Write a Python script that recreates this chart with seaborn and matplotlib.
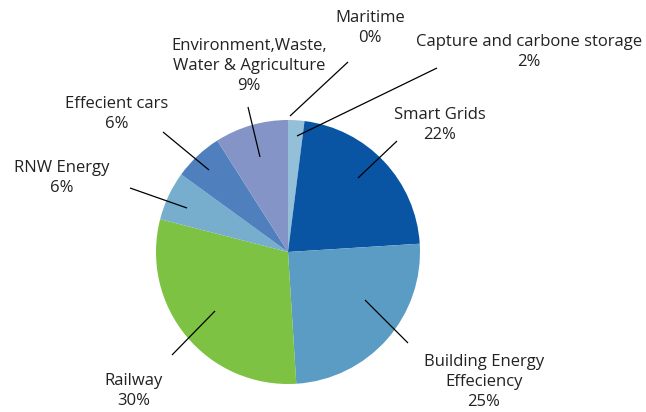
import matplotlib
matplotlib.use("Agg")
import matplotlib.pyplot as plt
import seaborn as sns

sns.set_theme(style="white")
plt.rcParams["font.family"] = ["Open Sans", "DejaVu Sans"]

# Share of funding by sector, clockwise from 12 o'clock
labels = ["Maritime", "Capture and carbone storage", "Smart Grids",
          "Building Energy\nEffeciency", "Railway", "RNW Energy",
          "Effecient cars", "Environment,Waste,\nWater & Agriculture"]
shares = [0, 2, 22, 25, 30, 6, 6, 9]
colors = ["#b9d3e6", "#94bfd9", "#0a55a3", "#5a9cc3", "#7dc242",
          "#77adcd", "#4f80bd", "#8594c7"]

W, H, DPI = 646, 412, 100
CX, CY, R = 288, 252, 132  # pie centre and radius in pixels


def to_data(px, py):
    return (px - CX) / R, (CY - py) / R


fig = plt.figure(figsize=(W / DPI, H / DPI), dpi=DPI)
ax = fig.add_axes([0, 0, 1, 1])
ax.pie(shares, colors=colors, startangle=90, counterclock=False,
       radius=1.0, wedgeprops=dict(linewidth=0))
ax.set_xlim(-CX / R, (W - CX) / R)
ax.set_ylim(-(H - CY) / R, CY / R)
ax.set_aspect("equal")
ax.axis("off")

# label text centre and leader line (start inside wedge, end near text), in pixels
placements = [
    ((370, 28), (290, 116), (348, 62)),
    ((529, 52), (297, 136), (437, 68)),
    ((440, 125), (358, 178), (397, 141)),
    ((484, 382), (365, 300), (408, 343)),
    ((134, 391), (215, 311), (172, 355)),
    ((62, 178), (187, 208), (130, 188)),
    ((117, 114), (209, 170), (163, 132)),
    ((249, 66), (260, 157), (248, 107)),
]

for lab, val, (txt, p0, p1) in zip(labels, shares, placements):
    x0, y0 = to_data(*p0)
    x1, y1 = to_data(*p1)
    ax.plot([x0, x1], [y0, y1], color="black", lw=0.9, solid_capstyle="butt")
    tx, ty = to_data(*txt)
    ax.text(tx, ty, f"{lab}\n{val}%", ha="center", va="center",
            fontsize=12, color="#222222", linespacing=1.3)

fig.savefig("out.png", dpi=DPI)
